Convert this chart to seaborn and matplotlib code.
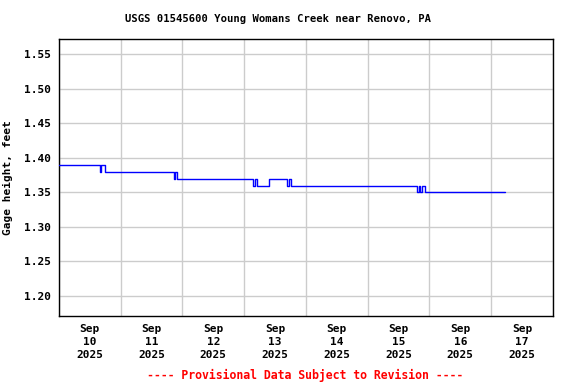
import pandas as pd
import matplotlib
matplotlib.use("Agg")
import matplotlib.pyplot as plt
import matplotlib.dates as mdates
import seaborn as sns

# gage readings, hours after 2025-09-10 00:00 and height in feet
hours = [0.0, 16.0, 16.25, 17.75,
         44.75, 45.25, 45.75,
         75.25, 76.0, 77.0,
         81.5, 88.75, 89.25, 90.25,
         139.0, 139.75, 140.25, 141.0, 142.25, 173.5]
gage_ft = [1.39, 1.38, 1.39, 1.38,
           1.37, 1.38, 1.37,
           1.36, 1.37, 1.36,
           1.37, 1.36, 1.37, 1.36,
           1.35, 1.36, 1.35, 1.36, 1.35, 1.35]
y_ticks = [1.20, 1.25, 1.30, 1.35, 1.40, 1.45, 1.50, 1.55]

start = pd.Timestamp("2025-09-10 00:00")
df = pd.DataFrame({
    "time": start + pd.to_timedelta(hours, unit="h"),
    "gage": gage_ft,
})

sns.set_theme(style="white")
plt.rcParams["font.family"] = ["DejaVu Sans Mono"]
plt.rcParams["font.weight"] = "bold"
plt.rcParams["text.color"] = "black"
plt.rcParams["axes.labelcolor"] = "black"
plt.rcParams["xtick.color"] = "black"
plt.rcParams["ytick.color"] = "black"

fig = plt.figure(figsize=(5.76, 3.84), dpi=100)
ax = fig.add_axes([0.1024, 0.177, 0.8576, 0.721])

sns.lineplot(data=df, x="time", y="gage", ax=ax, color="#0000ff",
             linewidth=1.0, drawstyle="steps-post", zorder=3)

ax.set_xlim(start, start + pd.Timedelta(days=8))
ax.set_ylim(1.171, 1.572)
ax.set_yticks(y_ticks)
ax.set_yticklabels([f"{v:.2f}" for v in y_ticks])

# labels at noon, grid at midnight
ax.xaxis.set_major_locator(mdates.HourLocator(byhour=[12]))
ax.xaxis.set_major_formatter(mdates.DateFormatter("%b\n%d\n%Y"))
ax.xaxis.set_minor_locator(mdates.DayLocator())
ax.grid(False)
ax.grid(True, which="minor", axis="x", color="#cccccc", linewidth=1.0)
ax.grid(True, which="major", axis="y", color="#cccccc", linewidth=1.0)
ax.tick_params(axis="both", which="both", length=0, labelsize=8, pad=6)
for lab in ax.get_xticklabels() + ax.get_yticklabels():
    lab.set_fontweight("bold")
for lab in ax.get_xticklabels():
    lab.set_linespacing(1.35)

for s in ax.spines.values():
    s.set_color("black")
    s.set_linewidth(1.0)

ax.set_xlabel("")
ax.set_ylabel("Gage height, feet", fontsize=8, fontweight="bold", labelpad=8)
fig.text(0.482, 0.95, "USGS 01545600 Young Womans Creek near Renovo, PA",
         ha="center", va="center", fontsize=7.6, fontweight="bold")
fig.text(0.53, 0.022, "---- Provisional Data Subject to Revision ----",
         ha="center", va="center", fontsize=8.3, fontweight="bold", color="red")

fig.savefig("out.png", dpi=100)
